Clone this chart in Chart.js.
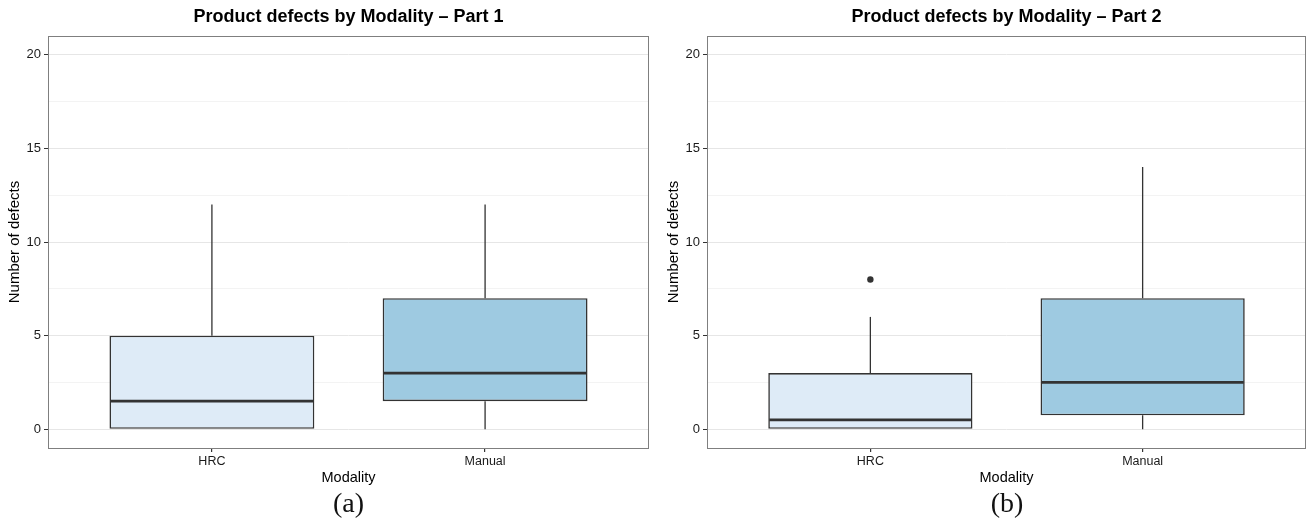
<!DOCTYPE html>
<html>
<head>
<meta charset="utf-8">
<script src="https://cdn.jsdelivr.net/npm/chart.js@4/dist/chart.umd.min.js"></script>
<style>
  body { margin: 0; background: #fff; width: 1310px; height: 522px; overflow: hidden; position: relative; }
  .panel { position: absolute; top: 0; height: 490px; }
  .caption { position: absolute; top: 487px; text-align: center; font-family: "Liberation Serif", "DejaVu Serif", serif; font-size: 28px; line-height: 32px; color: #111; }
</style>
</head>
<body>
<div class="panel" style="left:0;width:655px"><canvas id="part1"></canvas></div>
<div class="panel" style="left:659px;width:651px"><canvas id="part2"></canvas></div>
<div class="caption" style="left:48px;width:601px">(a)</div>
<div class="caption" style="left:707px;width:600px">(b)</div>
<script>
const categories = ['HRC', 'Manual'];
const boxColors = ['#deebf7', '#9ecae1'];

// Part 1 box stats
const part1Min = [0, 0];
const part1Q1 = [0, 1.5];
const part1Median = [1.5, 3];
const part1Q3 = [5, 7];
const part1Max = [12, 12];
const part1Outliers = [[], []];

// Part 2 box stats
const part2Min = [0, 0];
const part2Q1 = [0, 0.75];
const part2Median = [0.5, 2.5];
const part2Q3 = [3, 7];
const part2Max = [6, 14];
const part2Outliers = [[8], []];

const yTicks = [0, 5, 10, 15, 20];
const yMinorTicks = [2.5, 7.5, 12.5, 17.5];

const FONT = '"Liberation Sans", Arial, Helvetica, sans-serif';

// whiskers + median lines, drawn through the scales
const boxParts = {
  id: 'boxParts',
  afterDatasetsDraw(chart, args, opts) {
    const { ctx, scales: { x, y } } = chart;
    const meta = chart.getDatasetMeta(0);
    ctx.save();
    ctx.strokeStyle = '#333';
    opts.median.forEach((m, i) => {
      const cx = x.getPixelForValue(i + 1);
      const half = meta.data[i].width / 2;
      ctx.lineWidth = 1.3;
      ctx.beginPath();
      ctx.moveTo(cx, y.getPixelForValue(opts.q3[i]));
      ctx.lineTo(cx, y.getPixelForValue(opts.max[i]));
      ctx.moveTo(cx, y.getPixelForValue(opts.q1[i]));
      ctx.lineTo(cx, y.getPixelForValue(opts.min[i]));
      ctx.stroke();
      ctx.lineWidth = 2.8;
      ctx.beginPath();
      ctx.moveTo(cx - half + 1, y.getPixelForValue(m));
      ctx.lineTo(cx + half - 1, y.getPixelForValue(m));
      ctx.stroke();
    });
    ctx.restore();
  },
  afterDraw(chart, args, opts) {
    const { ctx, chartArea: a } = chart;
    ctx.save();
    ctx.strokeStyle = '#7f7f7f';
    ctx.lineWidth = 1;
    ctx.strokeRect(a.left + 0.5, a.top + 0.5, a.right - a.left - 1, a.bottom - a.top);
    ctx.fillStyle = '#000';
    ctx.font = 'bold 18px ' + FONT;
    ctx.textAlign = 'center';
    ctx.textBaseline = 'middle';
    ctx.fillText(opts.title, (a.left + a.right) / 2, 17);
    ctx.restore();
  }
};

function makeChart(id, title, mins, q1s, meds, q3s, maxs, outliers) {
  const outlierPoints = [];
  outliers.forEach((list, i) => list.forEach(v => outlierPoints.push({ x: i + 1, y: v })));

  return new Chart(document.getElementById(id), {
    type: 'bar',
    data: {
      datasets: [{
        data: categories.map((c, i) => ({ x: i + 1, y: [q1s[i], q3s[i]] })),
        backgroundColor: boxColors,
        borderColor: '#333',
        borderWidth: 1.6,
        borderSkipped: false,
        categoryPercentage: 1,
        barPercentage: 0.75
      }, {
        type: 'scatter',
        data: outlierPoints,
        pointRadius: 3.2,
        pointBackgroundColor: '#333',
        pointBorderWidth: 0
      }]
    },
    options: {
      responsive: true,
      maintainAspectRatio: false,
      animation: false,
      layout: { padding: { top: 36, right: id === 'part1' ? 6 : 3, left: 0, bottom: 0 } },
      plugins: {
        legend: { display: false },
        tooltip: { enabled: false },
        boxParts: { title, min: mins, q1: q1s, median: meds, q3: q3s, max: maxs }
      },
      scales: {
        x: {
          type: 'linear',
          min: 0.4,
          max: 2.6,
          offset: false,
          afterBuildTicks: s => { s.ticks = categories.map((c, i) => ({ value: i + 1 })); },
          afterFit: s => { s.height = 42; },
          grid: { offset: false, drawOnChartArea: false, tickLength: 4, tickColor: '#333', lineWidth: 1.2 },
          border: { display: false },
          ticks: {
            padding: 2,
            color: '#1a1a1a',
            font: { family: FONT, size: 12.5 },
            callback: v => categories[v - 1]
          },
          title: { display: true, text: 'Modality', color: '#000', font: { family: FONT, size: 14.5 }, padding: { top: 0, bottom: 3 } }
        },
        y: {
          min: -1,
          max: 21,
          afterBuildTicks: s => { s.ticks = yTicks.concat(yMinorTicks).sort((a, b) => a - b).map(v => ({ value: v })); },
          afterFit: s => { s.width = 48; },
          grid: {
            color: c => yTicks.includes(c.tick.value) ? '#e6e6e6' : '#f3f3f3',
            tickColor: c => yTicks.includes(c.tick.value) ? '#333' : 'rgba(0,0,0,0)',
            tickLength: 4
          },
          border: { display: false },
          ticks: {
            padding: 3,
            color: '#1a1a1a',
            font: { family: FONT, size: 13 },
            callback: v => yTicks.includes(v) ? String(v) : ''
          },
          title: { display: true, text: 'Number of defects', color: '#000', font: { family: FONT, size: 15 }, padding: { top: 6, bottom: 4 } }
        }
      }
    },
    plugins: [boxParts]
  });
}

makeChart('part1', 'Product defects by Modality \u2013 Part 1', part1Min, part1Q1, part1Median, part1Q3, part1Max, part1Outliers);
makeChart('part2', 'Product defects by Modality \u2013 Part 2', part2Min, part2Q1, part2Median, part2Q3, part2Max, part2Outliers);
</script>
</body>
</html>
